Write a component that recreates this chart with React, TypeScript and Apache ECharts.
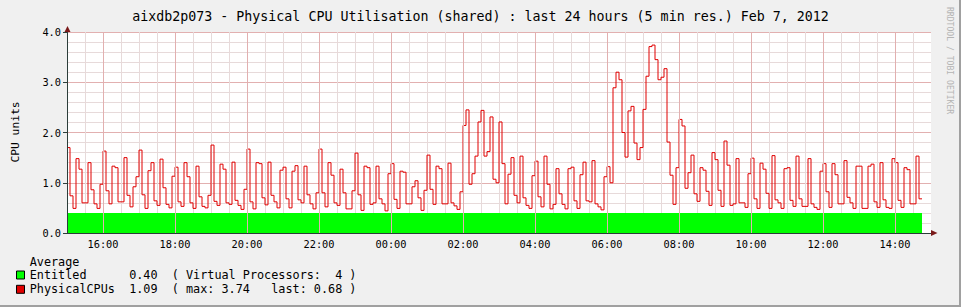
import React, { useEffect, useRef } from "react";
import * as echarts from "echarts";

// ---------- data (5‑minute samples, starting 15:00) ----------
const STEP_MINUTES = 5;
const phys_1500_1700 = [1.70, 0.74, 0.49, 1.48, 1.27, 0.60, 0.60, 1.40, 0.86, 0.58, 0.49, 0.97, 1.63, 0.84, 0.58, 1.33, 1.30, 0.62, 0.62, 1.50, 0.75, 0.52, 0.92, 1.12];
const phys_1700_1900 = [1.65, 0.76, 0.49, 1.24, 1.40, 0.64, 0.55, 1.47, 0.90, 0.57, 0.50, 1.13, 1.31, 0.62, 0.53, 1.40, 1.12, 0.60, 0.49, 1.33, 0.72, 0.53, 0.50, 0.75];
const phys_1900_2100 = [1.75, 0.63, 0.55, 1.37, 1.27, 0.60, 0.57, 1.41, 0.65, 0.55, 0.47, 0.87, 1.67, 0.62, 0.48, 1.40, 1.38, 0.70, 0.56, 1.41, 0.75, 0.62, 0.50, 1.25];
const phys_2100_2300 = [1.31, 0.68, 0.50, 1.23, 1.34, 0.66, 0.60, 1.33, 0.76, 0.58, 0.48, 0.80, 1.67, 0.80, 0.52, 1.40, 1.15, 0.60, 0.55, 1.27, 0.80, 0.48, 0.48, 0.84];
const phys_2300_0100 = [1.59, 0.76, 0.45, 1.33, 1.30, 0.57, 0.60, 1.33, 0.68, 0.58, 0.44, 1.18, 1.38, 0.67, 0.49, 1.23, 1.21, 0.58, 0.58, 0.92, 1.04, 0.70, 0.45, 0.85];
const phys_0100_0300 = [1.55, 0.87, 0.57, 1.33, 1.28, 0.58, 0.58, 1.39, 0.60, 0.54, 0.47, 0.82, 2.14, 2.45, 0.97, 1.18, 1.53, 2.21, 2.44, 1.53, 1.62, 2.31, 1.07, 1.00];
const phys_0300_0500 = [2.21, 1.38, 0.58, 1.17, 1.50, 0.75, 0.60, 1.53, 0.70, 0.55, 0.49, 1.14, 1.43, 0.72, 0.52, 1.53, 0.97, 0.48, 0.57, 1.28, 0.78, 0.57, 0.48, 1.28];
const phys_0500_0700 = [1.31, 0.64, 0.49, 1.16, 1.41, 0.64, 0.62, 1.44, 0.58, 0.52, 0.46, 1.12, 1.32, 1.00, 2.89, 3.20, 3.05, 2.00, 1.51, 2.43, 2.52, 1.79, 1.46, 1.70];
const phys_0700_0900 = [2.46, 3.12, 3.71, 3.74, 3.45, 3.05, 3.10, 3.27, 1.81, 1.15, 0.57, 1.30, 2.26, 2.13, 0.89, 1.20, 1.55, 0.78, 0.63, 1.30, 1.25, 0.83, 0.55, 1.60];
const phys_0900_1100 = [1.46, 0.85, 0.53, 1.83, 1.35, 0.55, 0.58, 1.48, 0.60, 0.60, 0.51, 1.18, 1.49, 0.68, 0.49, 1.39, 1.27, 0.79, 0.49, 1.54, 0.66, 0.60, 0.49, 1.28];
const phys_1100_1300 = [1.30, 0.65, 0.53, 1.53, 0.68, 0.53, 0.53, 1.48, 0.58, 0.51, 0.47, 1.23, 1.38, 0.82, 0.51, 1.38, 1.16, 0.58, 0.58, 1.44, 0.71, 0.60, 0.49, 1.33];
const phys_1300_1445 = [1.33, 0.49, 0.49, 1.33, 1.37, 0.62, 0.51, 1.40, 0.66, 0.51, 0.49, 1.48, 1.40, 0.65, 0.51, 1.30, 1.26, 0.58, 0.58, 1.53, 0.68];

const physicalCPUs = [
  ...phys_1500_1700, ...phys_1700_1900, ...phys_1900_2100, ...phys_2100_2300,
  ...phys_2300_0100, ...phys_0100_0300, ...phys_0300_0500, ...phys_0500_0700,
  ...phys_0700_0900, ...phys_0900_1100, ...phys_1100_1300, ...phys_1300_1445,
];
const entitledValue = 0.4;

// axis ticks (minutes since 15:00)
const xMajorMinutes = [60, 180, 300, 420, 540, 660, 780, 900, 1020, 1140, 1260, 1380];
const xTickLabels = ["16:00", "18:00", "20:00", "22:00", "00:00", "02:00", "04:00", "06:00", "08:00", "10:00", "12:00", "14:00"];

// texts
const titleText = "aixdb2p073 - Physical CPU Utilisation (shared) : last 24 hours (5 min res.) Feb 7, 2012";
const yAxisTitle = "CPU units";
const watermark = "RRDTOOL / TOBI OETIKER";
const legendHeader = "Average";
const legendNames = ["Entitled", "PhysicalCPUs"];
const legendAverages = ["0.40", "1.09"];
const legendNotes = ["( Virtual Processors:  4 )", "( max: 3.74   last: 0.68 )"];
const legendColors = ["#00ff00", "#e00000"];

const MONO = "DejaVu Sans Mono";
const MINOR = "#e7dada";
const MAJOR = "#e2b0b0";
const AXIS = "#2c3d3a";

function monoTokens(line: string, x0: number, y: number, cw: number, size: number) {
  const out: any[] = [];
  const re = /\S+/g;
  let m: RegExpExecArray | null;
  while ((m = re.exec(line))) {
    out.push({
      type: "text",
      x: x0 + m.index * cw,
      y,
      silent: true,
      style: { text: m[0], fontFamily: MONO, fontSize: size, fill: "#000", textAlign: "left", textVerticalAlign: "middle" },
    });
  }
  return out;
}

export default function App() {
  const ref = useRef<HTMLDivElement>(null);

  useEffect(() => {
    document.body.style.margin = "0";
    if (!ref.current) return;
    const chart = echarts.init(ref.current, undefined, { renderer: "svg" });

    const physData: [number, number][] = physicalCPUs.map((v, i) => [i * STEP_MINUTES, v]);
    physData.push([physicalCPUs.length * STEP_MINUTES, physicalCPUs[physicalCPUs.length - 1]]);
    const entData: [number, number][] = physData.map((p) => [p[0], entitledValue]);

    const legendSize = 11.8;
    const cw = 0.602 * legendSize;
    const legendX0 = 29.7;
    const legendGraphics: any[] = [];
    legendGraphics.push(...monoTokens(legendHeader, legendX0, 261.5, cw, legendSize));
    const rowsY = [275, 289.3];
    legendNames.forEach((name, k) => {
      const line = name.padEnd(14, " ") + legendAverages[k] + "  " + legendNotes[k];
      legendGraphics.push(...monoTokens(line, legendX0, rowsY[k], cw, legendSize));
      legendGraphics.push({
        type: "rect",
        silent: true,
        shape: { x: 16.5, y: rowsY[k] - 4, width: 8, height: 8 },
        style: { fill: legendColors[k], stroke: "#000", lineWidth: 1 },
      });
    });

    const option: any = {
      animation: false,
      backgroundColor: "#f0f0f0",
      textStyle: { fontFamily: MONO },
      grid: { left: 67, top: 32, width: 864, height: 201, show: true, backgroundColor: "#ffffff", borderWidth: 0 },
      xAxis: [
        {
          type: "value", position: "bottom", min: 0, max: 1440, interval: 30, z: 0,
          axisLine: { show: false }, axisTick: { show: false }, axisLabel: { show: false },
          splitLine: { show: true, showMaxLine: false, showMinLine: false, lineStyle: { color: MINOR, width: 1 } },
        },
        {
          type: "value", position: "bottom", min: 0, max: 1440, interval: 30, z: 10,
          axisLine: { show: true, onZero: false, lineStyle: { color: AXIS, width: 1 } },
          axisTick: { show: false },
          splitLine: { show: false },
          axisLabel: {
            show: true, margin: 6, fontSize: 10.3, fontFamily: MONO, color: "#000", hideOverlap: false,
            formatter: (v: number) => {
              const k = xMajorMinutes.indexOf(v);
              return k >= 0 ? xTickLabels[k] : "";
            },
          },
        },
      ],
      yAxis: [
        {
          type: "value", position: "left", min: 0, max: 4, interval: 1, z: 0,
          axisLine: { show: false }, axisTick: { show: false }, axisLabel: { show: false },
          splitLine: { show: true, lineStyle: { color: MAJOR, width: 1 } },
          minorTick: { show: false, splitNumber: 5 },
          minorSplitLine: { show: true, lineStyle: { color: MINOR, width: 1 } },
        },
        {
          type: "value", position: "left", min: 0, max: 4, interval: 1, z: 10,
          axisLine: { show: true, onZero: false, lineStyle: { color: AXIS, width: 1 } },
          axisTick: { show: true, length: 4, lineStyle: { color: AXIS } },
          splitLine: { show: false },
          axisLabel: { show: true, margin: 6, fontSize: 10.3, fontFamily: MONO, color: "#000", formatter: (v: number) => v.toFixed(1) },
        },
      ],
      series: [
        {
          type: "line", name: "majorGrid", xAxisIndex: 0, yAxisIndex: 0, z: 1, silent: true,
          data: [[0, 0]], symbol: "none", lineStyle: { opacity: 0 },
          markLine: {
            silent: true, symbol: "none", label: { show: false }, animation: false,
            lineStyle: { color: MAJOR, type: "solid", width: 1 },
            emphasis: { disabled: true },
            data: xMajorMinutes.map((m) => ({ xAxis: m })),
          },
        },
        {
          type: "line", name: "Entitled", xAxisIndex: 0, yAxisIndex: 0, z: 2, step: "end",
          data: entData, symbol: "none", silent: true,
          lineStyle: { opacity: 0, width: 0 },
          areaStyle: { color: "#00ff00", opacity: 1 },
        },
        {
          type: "line", name: "PhysicalCPUs", xAxisIndex: 0, yAxisIndex: 0, z: 3, step: "end",
          data: physData, symbol: "none", silent: true,
          lineStyle: { color: "#e00000", width: 1 },
        },
      ],
      graphic: [
        {
          type: "text", x: 480.5, y: 16, silent: true,
          style: { text: titleText, fontFamily: MONO, fontSize: 13.3, fill: "#000", textAlign: "center", textVerticalAlign: "middle" },
        },
        {
          type: "text", x: 15.5, y: 132, rotation: Math.PI / 2, silent: true,
          style: { text: yAxisTitle, fontFamily: MONO, fontSize: 11.3, fill: "#000", textAlign: "center", textVerticalAlign: "middle" },
        },
        {
          type: "text", x: 950, y: 7, rotation: -Math.PI / 2, silent: true,
          style: { text: watermark, fontFamily: MONO, fontSize: 8.1, fill: "#b4b4b4", textAlign: "left", textVerticalAlign: "middle" },
        },
        {
          type: "polygon", silent: true, z: 100,
          shape: { points: [[931, 230], [937.5, 233], [931, 236]] },
          style: { fill: "#7a1a1a" },
        },
        {
          type: "polygon", silent: true, z: 100,
          shape: { points: [[64.5, 32], [67.5, 26], [70.5, 32]] },
          style: { fill: "#7a1a1a" },
        },
        { type: "rect", silent: true, shape: { x: 959, y: 0, width: 2, height: 307 }, style: { fill: "#a0a0a0" } },
        { type: "rect", silent: true, shape: { x: 0, y: 305, width: 961, height: 2 }, style: { fill: "#a0a0a0" } },
        ...legendGraphics,
      ],
    };

    chart.setOption(option);
    return () => chart.dispose();
  }, []);

  return <div ref={ref} style={{ width: 961, height: 307 }} />;
}
